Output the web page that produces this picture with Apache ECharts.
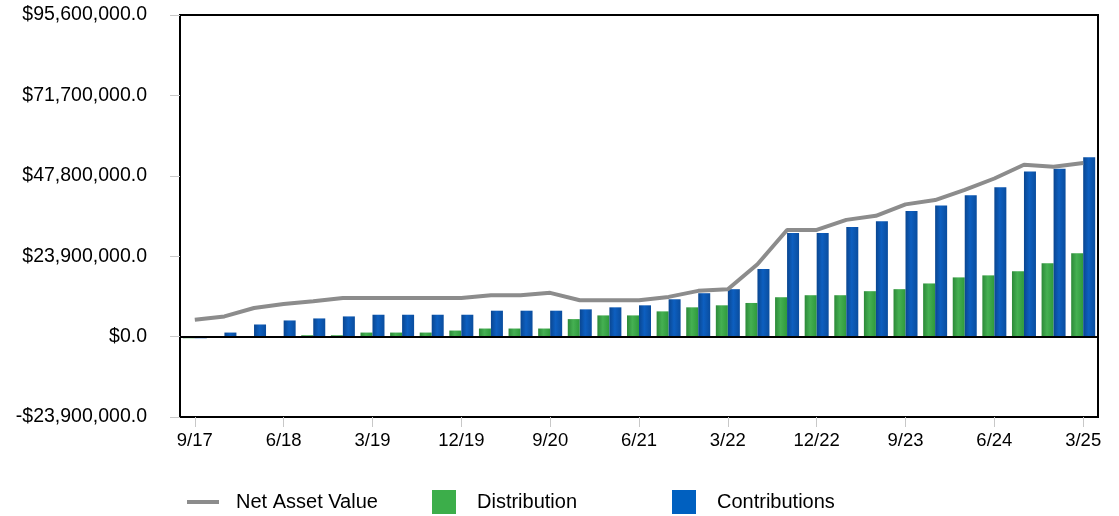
<!DOCTYPE html>
<html>
<head>
<meta charset="utf-8">
<script src="https://cdn.jsdelivr.net/npm/echarts@6/dist/echarts.min.js"></script>
<style>
html,body{margin:0;padding:0;background:#fff;}
#chart{width:1119px;height:516px;}
</style>
</head>
<body>
<div id="chart"></div>
<script>
// Quarter-end labels
const categories = ['9/17','12/17','3/18','6/18','9/18','12/18','3/19','6/19','9/19','12/19',
  '3/20','6/20','9/20','12/20','3/21','6/21','9/21','12/21','3/22','6/22',
  '9/22','12/22','3/23','6/23','9/23','12/23','3/24','6/24','9/24','12/24','3/25'];

// Values in millions of dollars
const navMillions = [5.0, 6.0, 8.5, 9.7, 10.5, 11.5, 11.5, 11.5, 11.5, 11.5,
  12.3, 12.3, 13.0, 10.8, 10.8, 10.8, 11.8, 13.6, 14.1, 21.5,
  31.7, 31.7, 34.7, 35.9, 39.3, 40.6, 43.6, 47.0, 51.1, 50.5, 51.6];
const distributionMillions = [-0.5, -0.4, -0.4, -0.4, 0.4, 0.4, 1.2, 1.2, 1.2, 1.8,
  2.4, 2.4, 2.4, 5.2, 6.3, 6.3, 7.5, 8.7, 9.3, 10.0,
  11.7, 12.3, 12.3, 13.5, 14.1, 15.8, 17.6, 18.2, 19.4, 21.8, 24.8];
const contributionsMillions = [-0.5, 1.2, 3.6, 4.8, 5.4, 6.0, 6.5, 6.5, 6.5, 6.5,
  7.7, 7.7, 7.7, 8.1, 8.7, 9.3, 11.1, 12.9, 14.1, 20.1,
  30.8, 30.8, 32.6, 34.3, 37.3, 39.0, 42.0, 44.4, 49.1, 49.9, 53.3];

// Y-axis ticks
const yTicks = [-23900000, 0, 23900000, 47800000, 71700000, 95600000];

const toDollars = a => a.map(v => Math.round(v * 1e6));
const FONT = 'Liberation Sans';

function fmt(v) {
  const r = Math.round(v);
  return (r < 0 ? '-' : '') + '$' + Math.abs(r).toLocaleString('en-US') + '.0';
}

const greenGrad = new echarts.graphic.LinearGradient(0, 0, 1, 0, [
  {offset: 0, color: '#2c8a38'}, {offset: 0.45, color: '#45b052'}, {offset: 1, color: '#2f9a3c'}]);
const blueGrad = new echarts.graphic.LinearGradient(0, 0, 1, 0, [
  {offset: 0, color: '#0a4690'}, {offset: 0.45, color: '#0d5fc0'}, {offset: 1, color: '#0a4d9e'}]);

const chart = echarts.init(document.getElementById('chart'), null, {renderer: 'canvas'});
const legendText = {fontFamily: FONT, fontSize: 20, color: '#000', padding: [0, 0, 0, 12]};
chart.setOption({
  animation: false,
  backgroundColor: '#fff',
  grid: {left: 180, right: 21, top: 15, bottom: 99, show: true, borderColor: '#000', borderWidth: 2, backgroundColor: 'transparent'},
  legend: [
    {data: [{name: 'Net Asset Value', icon: 'rect'}], left: 187, top: 492, padding: 0, itemWidth: 32, itemHeight: 4,
      textStyle: legendText, selectedMode: false, itemStyle: {color: '#8c8c8c'}},
    {data: [{name: 'Distribution', icon: 'rect'}], left: 432, top: 490, padding: 0, itemWidth: 24, itemHeight: 24,
      textStyle: Object.assign({}, legendText, {padding: [0, 0, 0, 16]}), selectedMode: false, itemStyle: {color: '#3cae4a'}},
    {data: [{name: 'Contributions', icon: 'rect'}], left: 672, top: 490, padding: 0, itemWidth: 24, itemHeight: 24,
      textStyle: Object.assign({}, legendText, {padding: [0, 0, 0, 16]}), selectedMode: false, itemStyle: {color: '#0060c0'}}
  ],
  xAxis: {
    type: 'category',
    data: categories,
    boundaryGap: true,
    axisLine: {show: true, onZero: false, lineStyle: {color: '#000', width: 2}},
    axisTick: {show: true, alignWithLabel: true, interval: 2, length: 10, lineStyle: {color: '#c8c8c8', width: 1}},
    axisLabel: {interval: 2, margin: 14, fontFamily: FONT, fontSize: 18.5, color: '#000'},
    splitLine: {show: false}
  },
  yAxis: {
    type: 'value',
    min: yTicks[0],
    max: yTicks[yTicks.length - 1],
    interval: yTicks[1] - yTicks[0],
    axisLine: {show: true, lineStyle: {color: '#000', width: 2}},
    axisTick: {show: true, length: 10, lineStyle: {color: '#c8c8c8', width: 1}},
    axisLabel: {formatter: fmt, margin: 33, fontFamily: FONT, fontSize: 19.5, color: '#000'},
    splitLine: {show: false}
  },
  series: [
    {
      name: 'Distribution', type: 'bar', data: toDollars(distributionMillions),
      barWidth: 12, barGap: '0%', itemStyle: {color: greenGrad}, z: 2
    },
    {
      name: 'Contributions', type: 'bar', data: toDollars(contributionsMillions),
      barWidth: 12, barGap: '0%', itemStyle: {color: blueGrad}, z: 2,
      markLine: {
        silent: true, symbol: 'none', label: {show: false},
        lineStyle: {color: '#000', width: 2, type: 'solid'},
        data: [{yAxis: 0}], z: 5
      }
    },
    {
      name: 'Net Asset Value', type: 'line', data: toDollars(navMillions),
      showSymbol: false, symbol: 'none',
      lineStyle: {color: '#8c8c8c', width: 4}, itemStyle: {color: '#8c8c8c'}, z: 4
    }
  ]
});
</script>
</body>
</html>
